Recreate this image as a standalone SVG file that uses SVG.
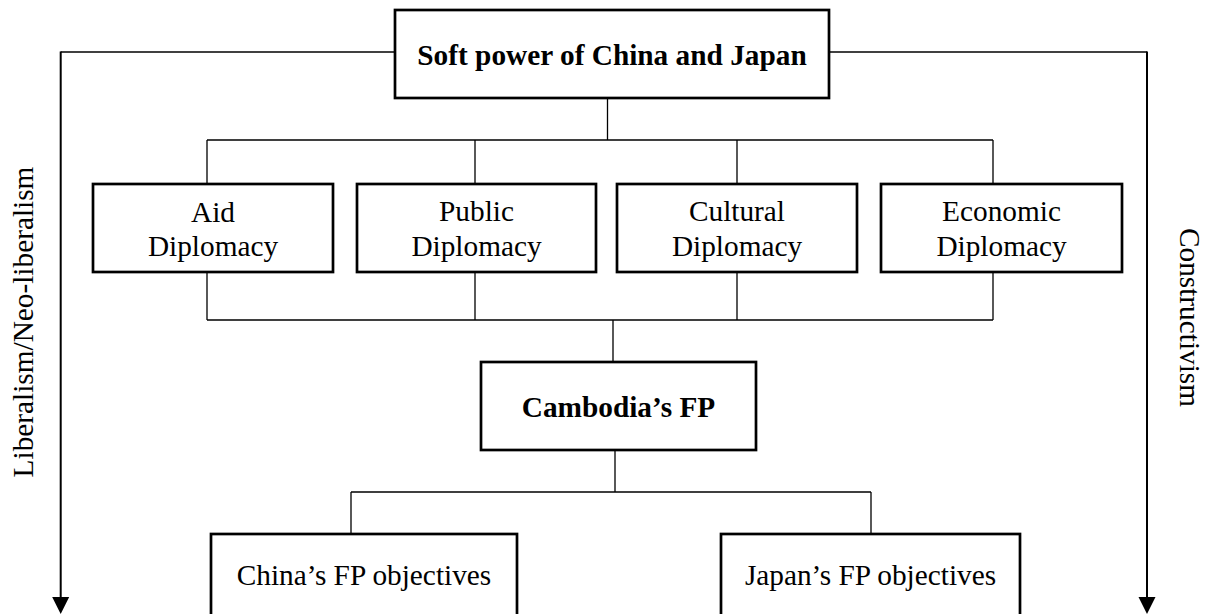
<svg xmlns="http://www.w3.org/2000/svg" width="1205" height="614" viewBox="0 0 1205 614">
<style>
.box{fill:#fff;stroke:#000;stroke-width:2.7}
.t{font-family:"Liberation Serif","Times New Roman",serif;font-size:29.3px;fill:#000;text-anchor:middle}
.b{font-weight:bold}
.c{fill:none;stroke:#000;stroke-width:1.3}
.a{fill:none;stroke:#000;stroke-width:2}
.head{fill:#000;stroke:none}
</style>
<defs>
<path id="head" class="head" d="M-8.5,0 L8.5,0 L0,17 Z"/>
</defs>
<rect width="1205" height="614" fill="#fff"/>
<g id="connectors">
<path class="c" d="M395,52 H60.7"/>
<path class="a" d="M60.7,51.4 V600"/>
<use href="#head" x="60.7" y="597"/>
<path class="c" d="M829,52 H1147"/>
<path class="a" d="M1147,51.4 V600"/>
<use href="#head" x="1147" y="597"/>
<path class="c" d="M607.5,98 V140 M207,140 H993 M207,140 V184 M475,140 V184 M737,140 V184 M993,140 V184"/>
<path class="c" d="M207,272 V320 M475,272 V320 M737,272 V320 M993,272 V320 M207,320 H993 M613,320 V362"/>
<path class="c" d="M615,450 V492 M351,492 H871 M351,492 V534 M871,492 V534"/>
</g>
<g id="soft-power">
<rect class="box" x="395" y="10" width="434" height="88"/>
<text class="t b" x="612" y="65">Soft power of China and Japan</text>
</g>
<g id="aid">
<rect class="box" x="93" y="184" width="240" height="88"/>
<text class="t" x="213" y="222">Aid</text>
<text class="t" x="213" y="256">Diplomacy</text>
</g>
<g id="public">
<rect class="box" x="357" y="184" width="239" height="88"/>
<text class="t" x="476.5" y="221">Public</text>
<text class="t" x="476.5" y="256">Diplomacy</text>
</g>
<g id="cultural">
<rect class="box" x="617" y="184" width="240" height="88"/>
<text class="t" x="737" y="221">Cultural</text>
<text class="t" x="737" y="256">Diplomacy</text>
</g>
<g id="economic">
<rect class="box" x="881" y="184" width="241" height="88"/>
<text class="t" x="1001.5" y="221">Economic</text>
<text class="t" x="1001.5" y="256">Diplomacy</text>
</g>
<g id="cambodia">
<rect class="box" x="481" y="362" width="275" height="88"/>
<text class="t b" x="618.5" y="417">Cambodia’s FP</text>
</g>
<g id="china">
<rect class="box" x="211" y="534" width="306" height="95"/>
<text class="t" x="364" y="585">China’s FP objectives</text>
</g>
<g id="japan">
<rect class="box" x="721" y="534" width="299" height="95"/>
<text class="t" x="870.5" y="585">Japan’s FP objectives</text>
</g>
<g id="liberalism">
<text class="t" transform="translate(33,322) rotate(-90)">Liberalism/Neo-liberalism</text>
</g>
<g id="constructivism">
<text class="t" transform="translate(1180,317.5) rotate(90)">Constructivism</text>
</g>
</svg>
